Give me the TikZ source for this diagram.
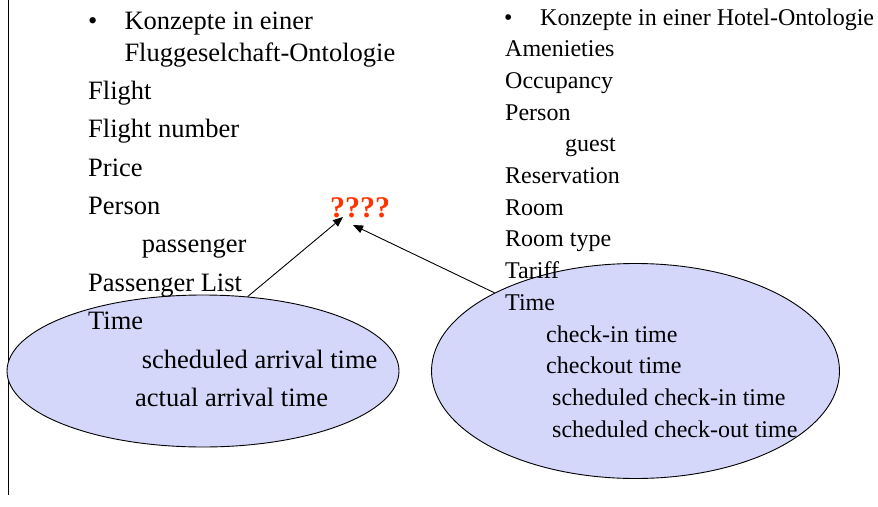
\documentclass[tikz,border=0pt]{standalone}
\usepackage{fontspec}
\setmainfont{Liberation Serif}
\usepackage{xcolor}
\usetikzlibrary{shapes.geometric,arrows.meta,positioning}
\definecolor{ovalfill}{RGB}{212,214,250}
\definecolor{qred}{RGB}{255,51,0}

\begin{document}
\begin{tikzpicture}[x=1pt,y=-1pt,
    big/.style={anchor=base west,inner sep=0pt,font=\fontsize{26.5}{30}\selectfont},
    small/.style={anchor=base west,inner sep=0pt,font=\fontsize{24}{28}\selectfont},
    oval/.style={ellipse,draw,fill=ovalfill,line width=0.9pt,inner sep=0pt},
    link/.style={-{Triangle[length=10pt,width=8pt]},line width=0.9pt}]
    \useasboundingbox (0,0) rectangle (878,506);

    % Frame line
    \draw[line width=1pt] (8,0) -- (8,495);

    % Ovals
    \node[oval,minimum width=392pt,minimum height=152pt] (lell) at (203,371) {};
    \node[oval,minimum width=408pt,minimum height=215pt] (rell) at (635.5,371) {};

    % Airline concepts
    \node[big] (lbul) at (88,29.3) {•};
    \node[big] (lhead1) at (124.3,29.3) {Konzepte in einer};
    \node[big] (lhead2) at (124.3,61.7) {Fluggeselchaft-Ontologie};
    \node[big] (flight) at (88,99.3) {Flight};
    \node[big] (fnum) at (88,137.7) {Flight number};
    \node[big] (price) at (88,176.1) {Price};
    \node[big] (lperson) at (88,214.5) {Person};
    \node[big] (passenger) at (141.7,252.9) {passenger};
    \node[big] (plist) at (88,291.3) {Passenger List};
    \node[big] (ltime) at (88,329.7) {Time};
    \node[big] (sarr) at (141.7,368.1) {scheduled arrival time};
    \node[big] (aarr) at (135,406.5) {actual arrival time};

    % Hotel concepts
    \node[small] (rbul) at (504,25) {•};
    \node[small] (rhead) at (540,25) {Konzepte in einer Hotel-Ontologie};
    \node[small] (amen) at (505,56.7) {Amenieties};
    \node[small] (occ) at (505,88.4) {Occupancy};
    \node[small] (rperson) at (505,120.1) {Person};
    \node[small] (guest) at (565,151.8) {guest};
    \node[small] (resv) at (505,183.5) {Reservation};
    \node[small] (room) at (505,215.2) {Room};
    \node[small] (rtype) at (505,246.9) {Room type};
    \node[small] (tariff) at (505,278.6) {Tariff};
    \node[small] (rtime) at (505,310.3) {Time};
    \node[small] (cin) at (546,342) {check-in time};
    \node[small] (cout) at (546,373.7) {checkout time};
    \node[small] (scin) at (552,405.4) {scheduled check-in time};
    \node[small] (scout) at (552,437.1) {scheduled check-out time};

    % Question
    \node[anchor=base west,inner sep=0pt,text=qred,
          font=\fontsize{30}{34}\selectfont\bfseries] (q) at (330,217) {????};

    % Links
    \draw[link] (lell.59) -- ([shift={(13pt,0pt)}]q.base west);
    \draw[link] (rell.151) -- ([shift={(23pt,-8pt)}]q.base west);
\end{tikzpicture}
\end{document}
